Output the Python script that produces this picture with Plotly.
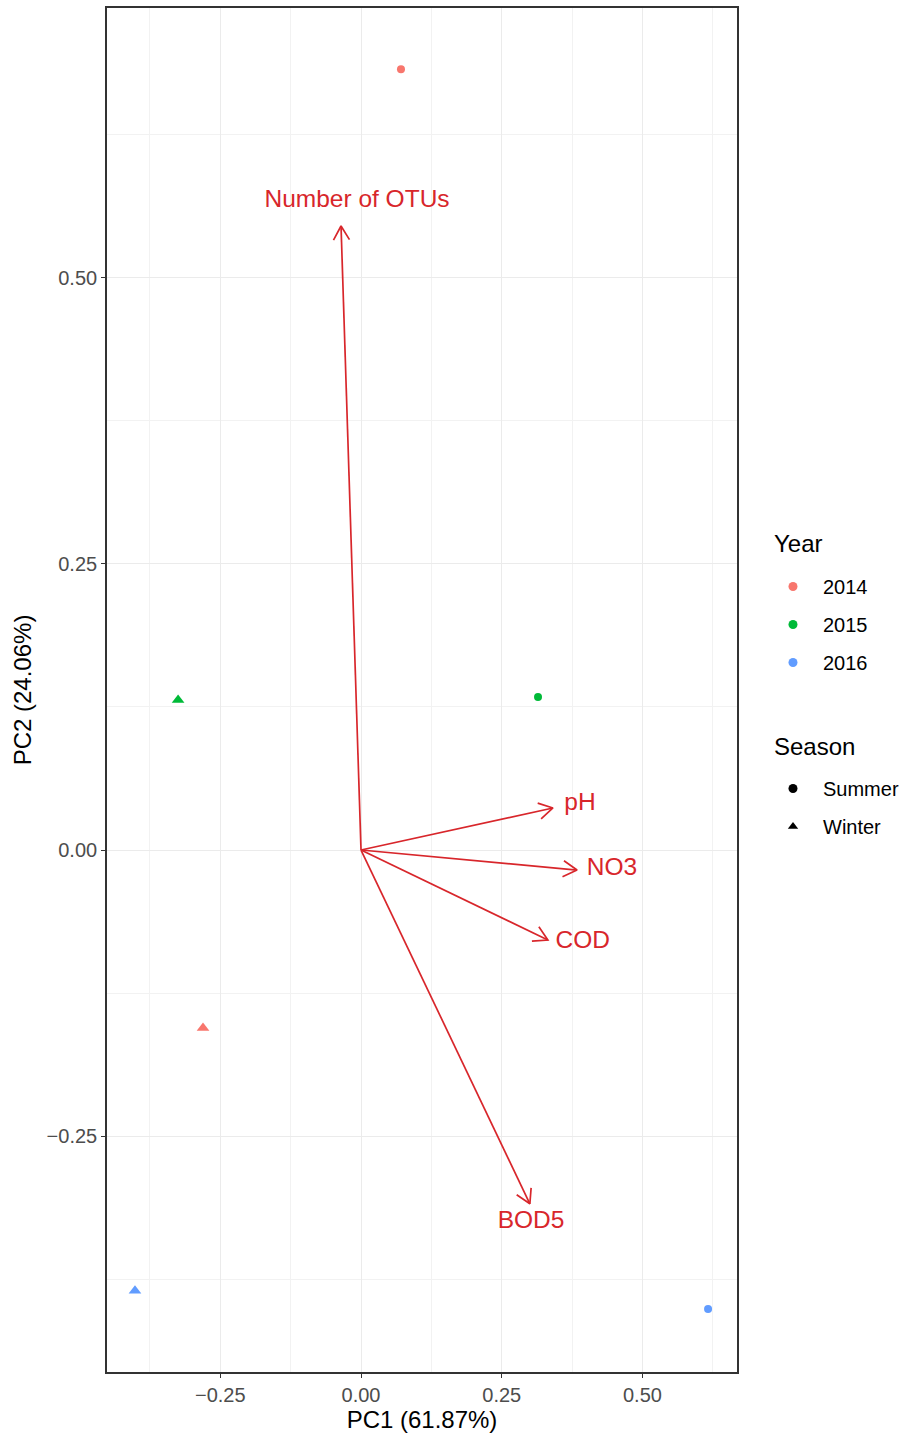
import math
import plotly.graph_objects as go

# ---- data ----
years = ["2014", "2015", "2016"]
year_colors = ["#F8766D", "#00BA38", "#619CFF"]
seasons = ["Summer", "Winter"]
summer_pc1 = [0.071, 0.3145, 0.6166]
summer_pc2 = [0.682, 0.1336, -0.4009]
winter_pc1 = [-0.2807, -0.325, -0.4016]
winter_pc2 = [-0.1555, 0.131, -0.385]

vars_names = ["Number of OTUs", "pH", "NO3", "COD", "BOD5"]
load_pc1 = [-0.0355, 0.341, 0.3838, 0.332, 0.300]
load_pc2 = [0.545, 0.0367, -0.0175, -0.0786, -0.309]
label_pc1 = [-0.0071, 0.389, 0.446, 0.394, 0.302]
label_pc2 = [0.567, 0.040, -0.0166, -0.080, -0.325]

x_range = [-0.4513, 0.668]
y_range = [-0.4559, 0.7354]

W, H = 903, 1433
ML, MR, MT, MB = 107, 166, 8, 61
arrow_color = "#D8262B"
FONT = "Liberation Sans, Arial"

fig = go.Figure()

# points
for i, yr in enumerate(years):
    fig.add_trace(go.Scatter(x=[summer_pc1[i]], y=[summer_pc2[i]], mode="markers",
                             marker=dict(symbol="circle", size=8, color=year_colors[i]),
                             showlegend=False, hoverinfo="skip"))
    fig.add_trace(go.Scatter(x=[winter_pc1[i]], y=[winter_pc2[i]], mode="markers",
                             marker=dict(symbol="triangle-up", size=11, color=year_colors[i]),
                             showlegend=False, hoverinfo="skip"))

# arrows (shaft + open chevron head computed in pixel space)
sx = (W - ML - MR) / (x_range[1] - x_range[0])
sy = (H - MT - MB) / (y_range[1] - y_range[0])
head_len = 16
ang = math.radians(30)
ax_, ay_ = [], []
for tx, ty in zip(load_pc1, load_pc2):
    dx, dy = tx * sx, ty * sy
    L = math.hypot(dx, dy)
    ux, uy = dx / L, dy / L
    pts = []
    for s in (1, -1):
        c, sn = math.cos(s * ang), math.sin(s * ang)
        rx, ry = ux * c - uy * sn, ux * sn + uy * c
        pts.append((tx - head_len * rx / sx, ty - head_len * ry / sy))
    ax_ += [0, tx, None, pts[0][0], tx, pts[1][0], None]
    ay_ += [0, ty, None, pts[0][1], ty, pts[1][1], None]
fig.add_trace(go.Scatter(x=ax_, y=ay_, mode="lines",
                         line=dict(color=arrow_color, width=1.7),
                         showlegend=False, hoverinfo="skip"))

fig.add_trace(go.Scatter(x=label_pc1, y=label_pc2, mode="text", text=vars_names,
                         textfont=dict(family=FONT, size=24.5, color=arrow_color),
                         showlegend=False, hoverinfo="skip"))

# legend entries
for i, yr in enumerate(years):
    fig.add_trace(go.Scatter(x=[None], y=[None], mode="markers", name=yr,
                             marker=dict(symbol="circle", size=9, color=year_colors[i]),
                             legend="legend", legendgroup="y" + yr))
for nm, sym in zip(seasons, ["circle", "triangle-up"]):
    fig.add_trace(go.Scatter(x=[None], y=[None], mode="markers", name=nm,
                             marker=dict(symbol=sym, size=9, color="black"),
                             legend="legend2", legendgroup="s" + nm))

axis_common = dict(
    showline=True, mirror=True, linecolor="#333333", linewidth=1.6,
    ticks="outside", ticklen=4, tickwidth=1.4, tickcolor="#333333",
    tickfont=dict(family=FONT, size=20, color="#4D4D4D"),
    showgrid=True, gridcolor="#EBEBEB", gridwidth=1.3,
    zeroline=False, dtick=0.25, tick0=0, tickformat=".2f",
    minor=dict(showgrid=True, gridcolor="#F2F2F2", gridwidth=0.8, dtick=0.125, tick0=0),
)

def px_x(p):
    return (p - ML) / (W - ML - MR)

def px_y(p):
    return 1 - (p - MT) / (H - MT - MB)

leg_common = dict(xanchor="left", yanchor="top", tracegroupgap=9, itemwidth=50,
                  font=dict(family=FONT, size=20, color="black"),
                  bgcolor="rgba(0,0,0,0)")

fig.update_layout(
    width=W, height=H,
    margin=dict(l=ML, r=MR, t=MT, b=MB, autoexpand=False),
    plot_bgcolor="white", paper_bgcolor="white",
    xaxis=dict(range=x_range, title=dict(text="PC1 (61.87%)", standoff=4,
               font=dict(family=FONT, size=24, color="black")), **axis_common),
    yaxis=dict(range=y_range, title=dict(text="PC2 (24.06%)", standoff=8,
               font=dict(family=FONT, size=24, color="black")), **axis_common),
    legend=dict(x=px_x(763), y=px_y(567), **leg_common),
    legend2=dict(x=px_x(763), y=px_y(769), **leg_common),
    annotations=[
        dict(text="Year", xref="paper", yref="paper", x=px_x(772), y=px_y(543),
             xanchor="left", yanchor="middle", showarrow=False,
             font=dict(family=FONT, size=24, color="black")),
        dict(text="Season", xref="paper", yref="paper", x=px_x(772), y=px_y(746),
             xanchor="left", yanchor="middle", showarrow=False,
             font=dict(family=FONT, size=24, color="black")),
    ],
)

fig.write_html("out.html")
